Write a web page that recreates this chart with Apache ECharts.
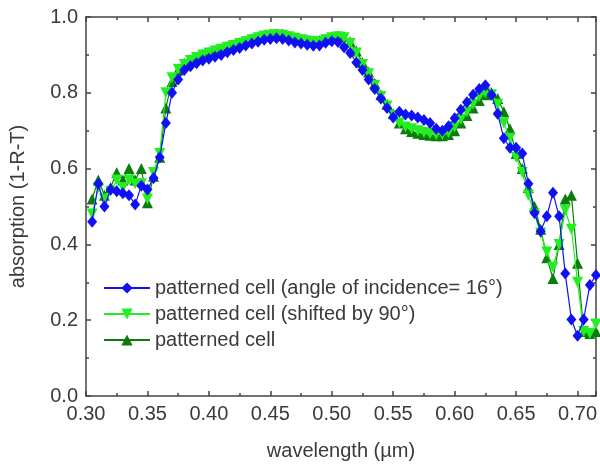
<!DOCTYPE html>
<html>
<head>
<meta charset="utf-8">
<script src="https://cdn.jsdelivr.net/npm/echarts@6/dist/echarts.min.js"></script>
<style>html,body{margin:0;padding:0;background:#fff;}#c{width:600px;height:466px;}</style>
</head>
<body>
<div id="c"></div>
<script>
const wavelength = [0.305,0.310,0.315,0.320,0.325,0.330,0.335,0.340,0.345,0.350,0.355,0.360,0.365,0.370,0.375,0.380,0.385,0.390,0.395,0.400,0.405,0.410,0.415,0.420,0.425,0.430,0.435,0.440,0.445,0.450,0.455,0.460,0.465,0.470,0.475,0.480,0.485,0.490,0.495,0.500,0.505,0.510,0.515,0.520,0.525,0.530,0.535,0.540,0.545,0.550,0.555,0.560,0.565,0.570,0.575,0.580,0.585,0.590,0.595,0.600,0.605,0.610,0.615,0.620,0.625,0.630,0.635,0.640,0.645,0.650,0.655,0.660,0.665,0.670,0.675,0.680,0.685,0.690,0.695,0.700,0.705,0.710,0.715];

const angle16 = [0.46,0.56,0.50,0.545,0.54,0.535,0.53,0.505,0.555,0.545,0.575,0.63,0.72,0.80,0.835,0.86,0.87,0.878,0.885,0.89,0.895,0.90,0.907,0.913,0.918,0.925,0.93,0.935,0.94,0.942,0.944,0.942,0.938,0.933,0.93,0.927,0.924,0.925,0.932,0.936,0.934,0.92,0.905,0.88,0.86,0.835,0.81,0.785,0.76,0.735,0.75,0.743,0.74,0.735,0.728,0.72,0.705,0.70,0.712,0.733,0.755,0.775,0.795,0.81,0.82,0.795,0.745,0.68,0.655,0.655,0.64,0.56,0.483,0.435,0.474,0.536,0.474,0.323,0.202,0.159,0.202,0.293,0.319];

const shifted90 = [0.48,0.55,0.52,0.54,0.57,0.55,0.57,0.56,0.56,0.52,0.59,0.64,0.80,0.84,0.862,0.875,0.885,0.893,0.90,0.905,0.91,0.915,0.92,0.925,0.93,0.935,0.94,0.945,0.95,0.952,0.953,0.952,0.948,0.944,0.94,0.937,0.935,0.935,0.94,0.945,0.948,0.945,0.93,0.905,0.875,0.85,0.82,0.79,0.765,0.74,0.72,0.71,0.705,0.70,0.695,0.692,0.69,0.69,0.695,0.71,0.73,0.75,0.77,0.79,0.80,0.795,0.77,0.72,0.68,0.63,0.59,0.53,0.48,0.43,0.38,0.34,0.40,0.49,0.44,0.30,0.17,0.165,0.19];

const patterned = [0.52,0.57,0.53,0.55,0.59,0.57,0.60,0.57,0.60,0.51,0.58,0.63,0.76,0.83,0.86,0.878,0.888,0.895,0.902,0.907,0.912,0.917,0.922,0.927,0.932,0.937,0.942,0.947,0.952,0.955,0.956,0.955,0.95,0.946,0.942,0.939,0.937,0.938,0.942,0.947,0.95,0.948,0.935,0.91,0.88,0.855,0.825,0.795,0.77,0.745,0.72,0.705,0.698,0.693,0.69,0.688,0.687,0.687,0.69,0.70,0.72,0.74,0.76,0.78,0.795,0.80,0.785,0.75,0.705,0.64,0.60,0.55,0.50,0.44,0.365,0.31,0.40,0.52,0.53,0.35,0.17,0.165,0.17];

const seriesNames = ['patterned cell (angle of incidence= 16°)','patterned cell (shifted by 90°)','patterned cell'];

function pairs(ys){ return wavelength.map((x,i)=>[x, ys[i]]); }

const textColor = '#3a3a3a';
const axisColor = '#444';
const font = 'Liberation Sans, Arial, sans-serif';

const chart = echarts.init(document.getElementById('c'), null, {renderer:'canvas'});
const isMajor = v => Math.abs(v/0.05 - Math.round(v/0.05)) < 1e-6;

chart.setOption({
  animation:false,
  backgroundColor:'#fff',
  grid:{left:86, right:1, top:17, bottom:63},
  legend:{
    orient:'vertical', left:98, top:273,
    itemWidth:46, itemHeight:14, itemGap:6,
    data:seriesNames,
    textStyle:{fontSize:20, color:textColor, fontFamily:font, lineHeight:20}
  },
  xAxis:[{
    type:'value', min:0.30, max:0.715, interval:0.05,
    name:'wavelength (µm)', nameLocation:'middle', nameGap:45,
    nameTextStyle:{fontSize:20, color:textColor, fontFamily:font},
    axisLine:{show:true, onZero:false, lineStyle:{color:axisColor, width:1.5}},
    axisTick:{show:true, inside:true, length:5, lineStyle:{color:axisColor, width:1.5}},
    minorTick:{show:true, splitNumber:2, length:3, lineStyle:{color:axisColor, width:1.5}},
    axisLabel:{fontSize:20, color:textColor, fontFamily:font, margin:8, showMaxLabel:false,
      formatter:v=> isMajor(v) ? v.toFixed(2) : ''},
    splitLine:{show:false}
  },{
    type:'value', position:'top', min:0.30, max:0.715, interval:0.05,
    axisLine:{show:true, onZero:false, lineStyle:{color:axisColor, width:1.5}},
    axisTick:{show:true, inside:true, length:5, lineStyle:{color:axisColor, width:1.5}},
    minorTick:{show:true, splitNumber:2, length:3, lineStyle:{color:axisColor, width:1.5}},
    axisLabel:{show:false}, splitLine:{show:false}
  }],
  yAxis:[{
    type:'value', min:0, max:1.0, interval:0.2,
    name:'absorption (1-R-T)', nameLocation:'middle', nameGap:58,
    nameTextStyle:{fontSize:20, color:textColor, fontFamily:font},
    axisLine:{show:true, onZero:false, lineStyle:{color:axisColor, width:1.5}},
    axisTick:{show:true, inside:true, length:5, lineStyle:{color:axisColor, width:1.5}},
    minorTick:{show:true, splitNumber:2, length:3, lineStyle:{color:axisColor, width:1.5}},
    axisLabel:{fontSize:20, color:textColor, fontFamily:font, margin:8, formatter:v=>v.toFixed(1)},
    splitLine:{show:false}
  },{
    type:'value', position:'right', min:0, max:1.0, interval:0.2,
    axisLine:{show:true, onZero:false, lineStyle:{color:axisColor, width:1.5}},
    axisTick:{show:true, inside:true, length:5, lineStyle:{color:axisColor, width:1.5}},
    minorTick:{show:true, splitNumber:2, length:3, lineStyle:{color:axisColor, width:1.5}},
    axisLabel:{show:false}, splitLine:{show:false}
  }],
  series:[
    {name:seriesNames[0], type:'line', data:pairs(angle16), z:4,
      symbol:'diamond', symbolSize:[10,12], color:'#1010f5',
      lineStyle:{width:1.2, color:'#1010f5'}, itemStyle:{color:'#1010f5'}},
    {name:seriesNames[1], type:'line', data:pairs(shifted90), z:3,
      symbol:'triangle', symbolRotate:180, symbolSize:11, color:'#22ee22',
      lineStyle:{width:1.2, color:'#22ee22'}, itemStyle:{color:'#22ee22'}},
    {name:seriesNames[2], type:'line', data:pairs(patterned), z:2,
      symbol:'triangle', symbolSize:11, color:'#0a7d0a',
      lineStyle:{width:1.2, color:'#0a7d0a'}, itemStyle:{color:'#0a7d0a'}}
  ]
});
</script>
</body>
</html>
